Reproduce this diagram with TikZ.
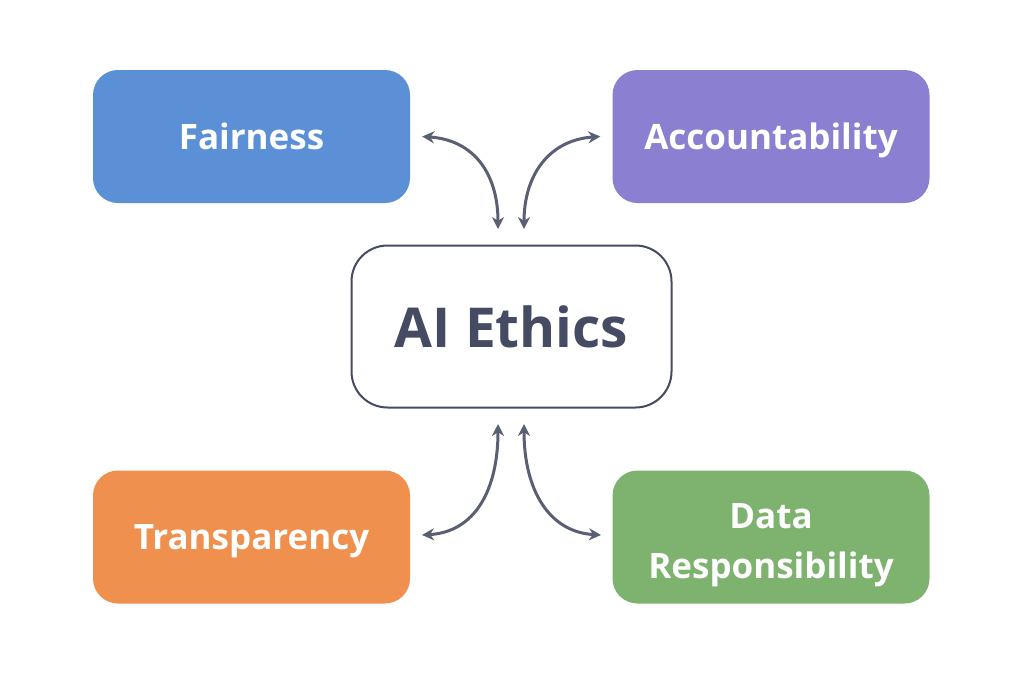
\documentclass[tikz,border=0pt]{standalone}
\usepackage{fontspec}
\setmainfont{Open Sans}
\usetikzlibrary{arrows.meta}
\definecolor{cblue}{HTML}{5B8FD6}
\definecolor{cpurple}{HTML}{8A7FD0}
\definecolor{corange}{HTML}{F0904E}
\definecolor{cgreen}{HTML}{7DB36F}
\definecolor{cdark}{HTML}{454B63}
\definecolor{carrow}{HTML}{5A6073}
\begin{document}
\begin{tikzpicture}[x=1pt,y=-1pt,
  box/.style={rounded corners=25pt, minimum width=317pt, minimum height=133pt, inner sep=0pt,
     text=white, font=\bfseries\fontsize{35}{50}\selectfont, align=center},
  boxtext/.style={inner sep=0pt, text=white, font=\bfseries\fontsize{35}{50}\selectfont, align=center},
  center/.style={draw=cdark, line width=2pt, fill=white, rounded corners=36pt, minimum width=320pt, minimum height=162pt,
     inner sep=0pt, text=cdark, font=\bfseries\fontsize{55}{60}\selectfont},
  link/.style={draw=carrow, line width=3pt, {Stealth[length=12pt,width=12pt]}-{Stealth[length=12pt,width=12pt]}}]
\useasboundingbox (0,0) rectangle (1024,683);
\fill[white] (0,0) rectangle (1024,683);
\node[box, fill=cblue] (fair) at (251.5,136.5) {Fairness};
\node[box, fill=cpurple, text height=25pt, text depth=0pt] (acc) at (771,136.5) {Accountability};
\node[box, fill=corange, text height=25pt, text depth=0pt] (trans) at (251.5,537) {Transparency};
\node[box, fill=cgreen] (data) at (771,537) {};
\node[boxtext] (datatext) at (771,545) {Data\\Responsibility};
\node[center] (ai) at (511.5,326.5) {AI Ethics};
\coordinate (a1) at ([xshift=12pt]fair.east);
\coordinate (a2) at ([xshift=-12pt]acc.west);
\coordinate (b1) at (498,229);
\coordinate (b2) at (524,229);
\coordinate (c1) at (498,424);
\coordinate (c2) at (524,424);
\coordinate (d1) at (422,535);
\coordinate (d2) at (601,535);
\draw[link] (a1) .. controls (475,140) and (498,175) .. (b1);
\draw[link] (a2) .. controls (549,140) and (524,175) .. (b2);
\draw[link] (c1) .. controls (498,490) and (475,532) .. (d1);
\draw[link] (c2) .. controls (524,490) and (549,532) .. (d2);
\end{tikzpicture}
\end{document}
